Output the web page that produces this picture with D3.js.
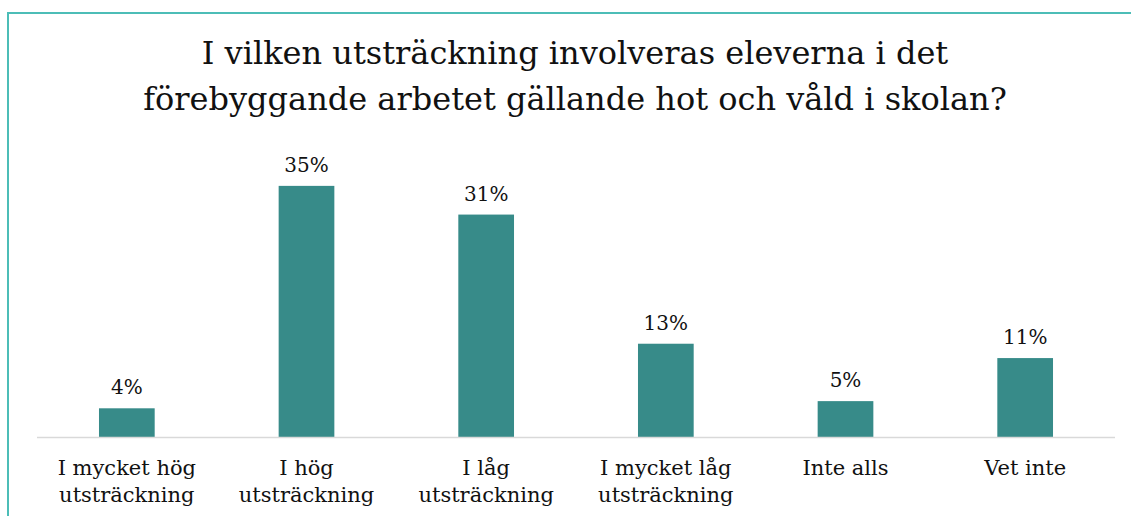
<!DOCTYPE html>
<html>
<head>
<meta charset="utf-8">
<script src="https://cdn.jsdelivr.net/npm/d3@7"></script>
<style>
  body { margin: 0; background: #fff; }
  svg { display: block; }
</style>
</head>
<body>
<svg width="1131" height="516"></svg>
<script>
const width = 1131;
const height = 516;

const titleLines = [
  "I vilken utsträckning involveras eleverna i det",
  "förebyggande arbetet gällande hot och våld i skolan?"
];
const categories = [
  ["I mycket hög", "utsträckning"],
  ["I hög", "utsträckning"],
  ["I låg", "utsträckning"],
  ["I mycket låg", "utsträckning"],
  ["Inte alls"],
  ["Vet inte"]
];
const values = [0.04, 0.35, 0.31, 0.13, 0.05, 0.11];

const font = "'DejaVu Serif', Georgia, serif";
const barColor = "#378b89";

const plot = { left: 37, right: 1115, top: 150, bottom: 437 };

const svg = d3.select("svg");

// frame
svg.append("path")
  .attr("d", `M8,${height} L8,13 L${width},13`)
  .attr("fill", "none")
  .attr("stroke", "#4cbdb7")
  .attr("stroke-width", 2);

// title
svg.append("text")
  .attr("text-anchor", "middle")
  .attr("font-family", font)
  .attr("font-size", "32px")
  .attr("fill", "#111")
  .selectAll("tspan")
  .data(titleLines)
  .enter().append("tspan")
  .attr("x", 575)
  .attr("y", (d, i) => 64 + i * 46)
  .text(d => d);

const x = d3.scaleBand()
  .domain(d3.range(values.length))
  .range([plot.left, plot.right]);

const y = d3.scaleLinear()
  .domain([0, 0.40])
  .range([plot.bottom, plot.top]);

const barW = x.bandwidth() * 0.31;

svg.append("g").selectAll("rect")
  .data(values)
  .enter().append("rect")
  .attr("x", (d, i) => x(i) + x.bandwidth() / 2 - barW / 2)
  .attr("y", d => y(d))
  .attr("width", barW)
  .attr("height", d => plot.bottom - y(d))
  .attr("fill", barColor);

// baseline
svg.append("line")
  .attr("x1", plot.left)
  .attr("x2", plot.right)
  .attr("y1", plot.bottom + 0.5)
  .attr("y2", plot.bottom + 0.5)
  .attr("stroke", "#d9d9d9")
  .attr("stroke-width", 1.5);

// value labels
svg.append("g").selectAll("text")
  .data(values)
  .enter().append("text")
  .attr("x", (d, i) => x(i) + x.bandwidth() / 2)
  .attr("y", d => y(d) - 14)
  .attr("text-anchor", "middle")
  .attr("font-family", font)
  .attr("font-size", "20px")
  .attr("fill", "#111")
  .text(d => d3.format(".0%")(d));

// category labels
const cats = svg.append("g").selectAll("text")
  .data(categories)
  .enter().append("text")
  .attr("text-anchor", "middle")
  .attr("font-family", font)
  .attr("font-size", "21px")
  .attr("fill", "#111");

cats.selectAll("tspan")
  .data((d, i) => d.map(t => ({ t, i })))
  .enter().append("tspan")
  .attr("x", d => x(d.i) + x.bandwidth() / 2)
  .attr("y", (d, j) => 475 + j * 27)
  .text(d => d.t);
</script>
</body>
</html>
